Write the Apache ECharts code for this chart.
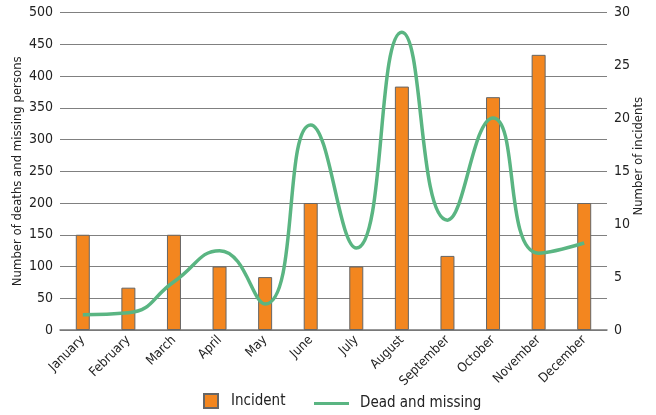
<!DOCTYPE html>
<html><head><meta charset="utf-8">
<script src="https://cdn.jsdelivr.net/npm/echarts@6/dist/echarts.min.js"></script>
<style>html,body{margin:0;padding:0;background:#fff}#c{width:656px;height:415px}</style>
</head><body><div id="c"></div>
<script>
const months = ['January','February','March','April','May','June','July','August','September','October','November','December'];
const incidents = [9, 4, 9, 6, 5, 12, 6, 23, 7, 22, 26, 12];
const deadMissing = [24, 27, 76, 125, 41, 323, 129, 469, 173, 334, 121, 137];
const leftTicks = {min: 0, max: 500, interval: 50};
const rightTicks = {min: 0, max: 30, interval: 5};

const font = "'DejaVu Sans Condensed', 'Liberation Sans Narrow', sans-serif";
const chart = echarts.init(document.getElementById('c'));
chart.setOption({
  animation: false,
  textStyle: {fontFamily: font},
  grid: {left: 60, right: 49, top: 12.5, bottom: 85, containLabel: false, outerBoundsMode: 'none'},
  legend: [
    {left: 198, top: 388, itemWidth: 14, itemHeight: 14, itemGap: 0,
     textStyle: {fontFamily: font, fontSize: 15, color: '#222', padding: [0, 0, 0, 8]},
     data: [{name: 'Incident', icon: 'rect'}]},
    {left: 309, top: 391, itemWidth: 35, itemHeight: 3, itemGap: 0,
     textStyle: {fontFamily: font, fontSize: 15, color: '#222', padding: [0, 0, 0, 6]},
     data: [{name: 'Dead and missing', icon: 'rect', itemStyle: {color: '#5ab582', borderWidth: 0}}]}
  ],
  xAxis: {
    type: 'category', data: months,
    axisLine: {lineStyle: {color: '#777', width: 1.5}},
    axisTick: {show: false},
    axisLabel: {rotate: 45, fontFamily: font, fontSize: 13, color: '#222', margin: 8, interval: 0}
  },
  yAxis: [
    {type: 'value', min: leftTicks.min, max: leftTicks.max, interval: leftTicks.interval,
     name: 'Number of deaths and missing persons', nameLocation: 'middle', nameGap: 36, nameRotate: 90,
     nameMoveOverlap: false,
     nameTextStyle: {fontFamily: font, fontSize: 13, color: '#222'},
     axisLine: {show: false}, axisTick: {show: false},
     axisLabel: {fontFamily: font, fontSize: 14, color: '#222', margin: 7},
     splitLine: {lineStyle: {color: '#808080', width: 1.2}}},
    {type: 'value', min: rightTicks.min, max: rightTicks.max, interval: rightTicks.interval,
     name: 'Number of incidents', nameLocation: 'middle', nameGap: 25, nameRotate: 90,
     nameMoveOverlap: false,
     nameTextStyle: {fontFamily: font, fontSize: 13, color: '#222', padding: [0, 0, 0, 30]},
     axisLine: {show: false}, axisTick: {show: false},
     axisLabel: {fontFamily: font, fontSize: 14, color: '#222', margin: 7},
     splitLine: {show: false}}
  ],
  series: [
    {name: 'Incident', type: 'bar', yAxisIndex: 1, data: incidents, barWidth: 14,
     itemStyle: {color: '#f3861f', borderColor: '#666', borderWidth: 1}},
    {name: 'Dead and missing', type: 'line', yAxisIndex: 0, data: deadMissing, smooth: 0.5,
     symbol: 'none', lineStyle: {color: '#5ab582', width: 3.5}, itemStyle: {color: '#5ab582'}}
  ]
});
</script></body></html>
